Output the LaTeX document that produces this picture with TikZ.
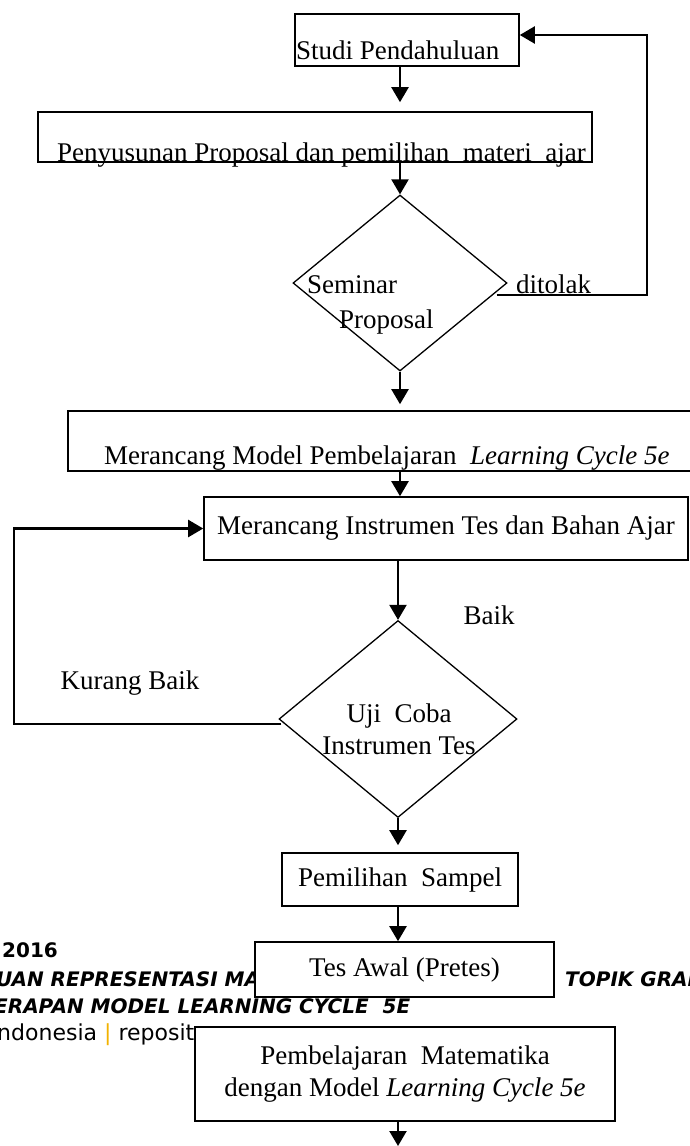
\documentclass[tikz,border=0pt]{standalone}
\usepackage{fontspec}
\setmainfont{Liberation Serif}
\newfontfamily\footfont{DejaVu Sans}
\usetikzlibrary{calc,positioning,arrows.meta,shapes.geometric}
\definecolor{footbar}{RGB}{242,178,0}
\tikzset{
  flowtxt/.style={font=\fontsize{27}{32}\selectfont, inner sep=0pt},
  foottxt/.style={font=\footfont\bfseries\itshape\fontsize{20}{24}\selectfont,
    inner sep=0pt, anchor=west},
  block/.style={
    draw, line width=1.6pt, fill=white,
    align=center, flowtxt,
  },
  decide/.style={draw, diamond, line width=1.3pt, inner sep=0pt},
  flow/.style={line width=2.2pt, -{Triangle[width=17pt,length=15pt]}},
}
\begin{document}
\begin{tikzpicture}[x=1pt, y=-1pt]

  \useasboundingbox (0,0) rectangle (690,1146);
  \clip (0,0) rectangle (690,1146);

  % page footer showing through
  \node[foottxt, font=\footfont\bfseries\fontsize{20}{24}\selectfont] (year) at (2,950) {2016};
  \node[foottxt] (titleA) at (-4,979) {UAN REPRESENTASI MA};
  \node[foottxt] (titleB) at (565,979) {TOPIK GRAF};
  \node[foottxt] (titleC) at (-6,1006) {ERAPAN MODEL LEARNING CYCLE\ \ 5E};
  \node[foottxt, font=\footfont\fontsize{22}{26}\selectfont] (repo) at (-3,1035)
    {ndonesia {\color{footbar}|} reposit};

  \node[block, minimum width=224, minimum height=52] (studi) at (407,40) {};
  \node[flowtxt, anchor=base west] (studiT) at (296,59) {Studi Pendahuluan};

  \node[block, minimum width=554, minimum height=50] (susun) at (315,137) {};
  \node[flowtxt, anchor=base west] (susunT) at (57,161)
    {Penyusunan Proposal dan pemilihan\ \ materi\ \ ajar};

  \node[decide, minimum width=214, minimum height=176] (seminar) at (400,283) {};
  \node[flowtxt, anchor=base west] (seminarA) at (307,293) {Seminar};
  \node[flowtxt, anchor=base west] (seminarB) at (339,328) {Proposal};
  \node[flowtxt, anchor=base west] (tolak) at (516,293) {ditolak};

  \node[block, minimum width=650, minimum height=60] (model) at (393,441) {};
  \node[flowtxt, anchor=base west] (modelT) at (104,464)
    {Merancang Model Pembelajaran\ \ \textit{Learning Cycle 5e}};

  \node[block, minimum width=484, minimum height=63] (instr) at (446,528.5)
    {Merancang Instrumen Tes dan Bahan Ajar};

  \node[decide, minimum width=238, minimum height=197] (uji) at (398,719) {};
  \node[flowtxt, align=center] (ujiT) at (399,729) {Uji\ \ Coba\\Instrumen Tes};
  \node[flowtxt] (baik) at (489,615) {Baik};
  \node[flowtxt] (kurang) at (130,683) {Kurang Baik};

  \node[block, minimum width=236, minimum height=53] (sampel) at (400,879.5)
    {Pemilihan\ \ Sampel};
  \node[block, minimum width=299, minimum height=55] (pretes) at (404.5,969.5)
    {Tes Awal (Pretes)};
  \node[block, minimum width=420, minimum height=94] (ajar) at (405,1074)
    {Pembelajaran\ \ Matematika\\dengan Model \textit{Learning Cycle 5e}};
  \coordinate (tail) at (398,1146);

  \draw[flow, shorten >=9pt] (studi.south -| seminar.north) -- (susun.north -| seminar.north);
  \draw[flow] (susun.south -| seminar.north) -- (seminar.north);
  % rejected: back to the start
  \draw[flow] ($(seminar.east)+(-11,12)$) -- ++(150,0) |- ($(studi.east)+(0,-5)$);
  \draw[flow, shorten >=6pt] (seminar.south) -- (model.north -| seminar.south);
  \draw[flow] (model.south -| seminar.south) -- (instr.north -| seminar.south);
  \draw[flow] (instr.south -| uji.north) -- (uji.north);
  % not good enough: redesign
  \draw[flow] ($(uji.west)+(3,5)$) -- ++(-267,0) |- (instr.west);
  \draw[flow, shorten >=7pt] (uji.south) -- (sampel.north -| uji.south);
  \draw[flow] (sampel.south -| uji.south) -- (pretes.north -| uji.south);
  \draw[flow] (ajar.south -| uji.south) -- (tail);

\end{tikzpicture}
\end{document}
